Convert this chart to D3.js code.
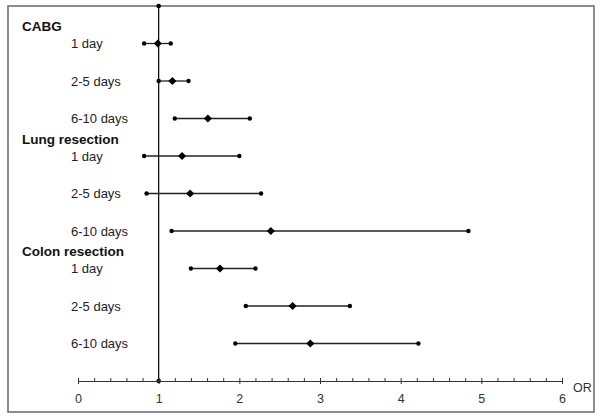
<!DOCTYPE html>
<html><head><meta charset="utf-8">
<script src="https://cdn.jsdelivr.net/npm/d3@7"></script>
<style>body{margin:0;background:#fff}svg{display:block}text{font-family:Arial,"Liberation Sans",sans-serif}</style>
</head><body><svg id="c" width="602" height="419"></svg>
<script>
const groups = ["CABG","Lung resection","Colon resection"];
const periods = ["1 day","2-5 days","6-10 days"];
const estimate = [0.99,1.17,1.61, 1.29,1.39,2.39, 1.76,2.66,2.88];
const lower    = [0.82,1.00,1.20, 0.82,0.85,1.16, 1.40,2.08,1.95];
const upper    = [1.15,1.37,2.13, 2.00,2.27,4.84, 2.20,3.37,4.22];
const xTicks = [0,1,2,3,4,5,6];

const svg = d3.select("#c");
const x = d3.scaleLinear().domain([0,6]).range([78,562]);
const y = d3.scaleLinear().domain([-1,9]).range([6,381]);

// frame
svg.append("rect").attr("x",8).attr("y",6).attr("width",586).attr("height",406)
  .attr("fill","none").attr("stroke","#707070").attr("stroke-width",1.6);

// reference line at OR=1
svg.append("line").attr("x1",x(1)).attr("x2",x(1)).attr("y1",y(-1)).attr("y2",y(9))
  .attr("stroke","#000").attr("stroke-width",1.2);
svg.append("circle").attr("cx",x(1)).attr("cy",y(-1)).attr("r",2.3).attr("fill","#000");
svg.append("circle").attr("cx",x(1)).attr("cy",y(9)).attr("r",2.3).attr("fill","#000");

// axis
const axis = d3.axisBottom(x).tickValues(d3.range(0,6.01,0.2)).tickSize(-3).tickSizeOuter(0)
  .tickFormat(d=>"");
const ag = svg.append("g").attr("transform",`translate(0,${y(9)})`).call(axis);
ag.select(".domain").attr("stroke","#333").attr("stroke-width",1.2);
ag.selectAll(".tick line").attr("stroke","#333");
ag.selectAll(".tick text").remove();
const ag2 = svg.append("g").attr("transform",`translate(0,${y(9)})`)
  .call(d3.axisBottom(x).tickValues(xTicks).tickSize(3).tickPadding(10).tickFormat(d3.format("d")));
ag2.select(".domain").remove();
ag2.selectAll(".tick line").attr("stroke","#333");
ag2.selectAll(".tick text").attr("font-size",12.5).attr("fill","#333")
  .attr("font-family","Arial,'Liberation Sans',sans-serif");
svg.append("text").attr("x",573).attr("y",392).attr("font-size",12.5).attr("fill","#333").text("OR");

// labels
groups.forEach((g,gi)=>{
  svg.append("text").attr("x",22).attr("y",y(gi*3)-17).attr("dy","0.35em")
    .attr("font-size",13.5).attr("font-weight","bold").attr("fill","#111").text(g);
  periods.forEach((p,pi)=>{
    svg.append("text").attr("x",71).attr("y",y(gi*3+pi)).attr("dy","0.35em")
      .attr("font-size",13).attr("fill","#222").text(p);
  });
});

// CI lines
const idx = d3.range(estimate.length);
svg.append("g").selectAll("line").data(idx).join("line")
  .attr("x1",i=>x(lower[i])).attr("x2",i=>x(upper[i]))
  .attr("y1",i=>y(i)).attr("y2",i=>y(i)).attr("stroke","#222").attr("stroke-width",1.3);
svg.append("g").selectAll("circle.lo").data(idx).join("circle")
  .attr("cx",i=>x(lower[i])).attr("cy",i=>y(i)).attr("r",2.2).attr("fill","#000");
svg.append("g").selectAll("circle.hi").data(idx).join("circle")
  .attr("cx",i=>x(upper[i])).attr("cy",i=>y(i)).attr("r",2.2).attr("fill","#000");
svg.append("g").selectAll("path").data(idx).join("path")
  .attr("d",d3.symbol().type(d3.symbolDiamond2).size(42))
  .attr("transform",i=>`translate(${x(estimate[i])},${y(i)})`).attr("fill","#000");
</script></body></html>
